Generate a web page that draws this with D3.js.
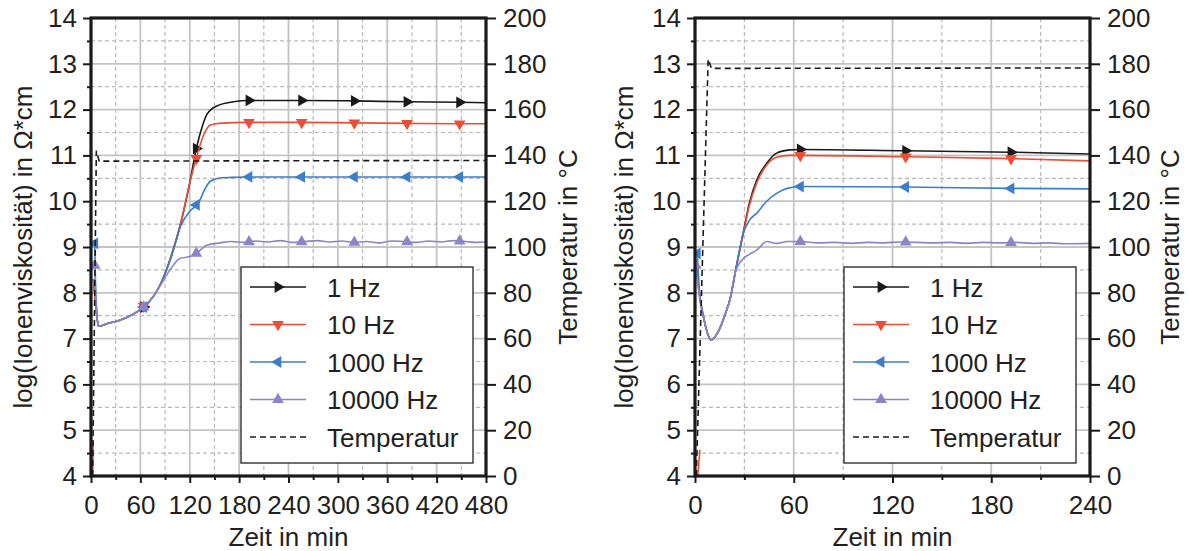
<!DOCTYPE html>
<html><head><meta charset="utf-8">
<script src="https://cdn.jsdelivr.net/npm/d3@7"></script>
<style>
body{margin:0;background:#fff}
text{font-family:"Liberation Sans",Arial,Helvetica,sans-serif;fill:#231f20}
</style>
</head><body>
<svg id="chart" width="1189" height="551"></svg>
<script>
// ---------------- DATA ----------------
const seriesLabels = ["1 Hz", "10 Hz", "1000 Hz", "10000 Hz"];
const tempLabel = "Temperatur";
const yTicks = [4,5,6,7,8,9,10,11,12,13,14];
const tempTicks = [0,20,40,60,80,100,120,140,160,180,200];
const xTicksLeft = [0,60,120,180,240,300,360,420,480];
const xTicksRight = [0,60,120,180,240];
const xTitle = "Zeit in min";
const yTitle = "log(Ionenviskosität) in Ω*cm";
const y2Title = "Temperatur in °C";
const markerTimesLeft = [64,128,192,256,320,384,448];
const markerTimesRight = [64,128,192];

// Left panel (t in min, log value)
const left1Hz = [[3,8.3],[6,7.7],[9,7.27],[20,7.33],[35,7.4],[50,7.52],[65,7.7],[75,7.9],[84,8.17],[96,8.72],[110,9.59],[120,10.4],[128,11.15],[135,11.62],[141,11.9],[153,12.08],[173,12.17],[192,12.2],[256,12.2],[320,12.19],[384,12.17],[448,12.16],[480,12.15]];
const left10Hz = [[1.8,3.5],[2.6,4.75],null,[3,8.3],[6,7.7],[9,7.27],[20,7.33],[35,7.4],[50,7.52],[65,7.72],[75,7.9],[84,8.17],[96,8.72],[110,9.59],[120,10.4],[130,11.07],[137,11.45],[144.6,11.66],[155,11.7],[192,11.72],[256,11.72],[320,11.71],[384,11.7],[448,11.69],[480,11.69]];
const left1000Hz = [[4.5,9.08],[5.5,8.2],[7,7.6],[9,7.27],[20,7.33],[35,7.4],[50,7.52],[65,7.7],[75,7.9],[84,8.17],[96,8.7],[110,9.5],[120,9.78],[131,9.97],[138,10.25],[144.6,10.43],[155,10.5],[170,10.52],[192,10.53],[256,10.53],[320,10.53],[384,10.53],[448,10.53],[480,10.53]];
const left10000Hz = [[4.5,8.6],[5.5,8.0],[7,7.55],[9,7.27],[20,7.33],[35,7.4],[50,7.52],[65,7.7],[75,7.9],[84,8.15],[96,8.5],[108,8.75],[120,8.79],[128,8.86],[140.6,9.04],[156.8,9.09],[170,9.12],[185,9.1],[200,9.13],[215,9.11],[230,9.14],[245,9.1],[260,9.12],[275,9.14],[290,9.11],[305,9.13],[320,9.1],[335,9.12],[350,9.09],[365,9.13],[380,9.12],[395,9.1],[410,9.13],[425,9.11],[440,9.14],[455,9.12],[470,9.1],[480,9.11]];
const leftTemp = [[2,0],[6.5,142],[10,137.5],[480,137.8]];

// Right panel
const right1Hz = [[0.5,8.7],[3,7.9],[5,7.5],[7.5,7.12],[10,6.97],[13,7.08],[16,7.3],[18.5,7.55],[21.3,7.86],[25,8.55],[29.4,9.33],[33,9.95],[37.5,10.46],[43.6,10.83],[49.6,11.05],[57.7,11.12],[64,11.13],[128,11.1],[192,11.07],[240,11.03]];
const right10Hz = [[1.4,3.9],[3,4.57],null,[0.5,8.7],[3,7.9],[5,7.5],[7.5,7.12],[10,6.97],[13,7.08],[16,7.3],[18.5,7.55],[21.3,7.86],[25,8.55],[29.4,9.3],[33,9.9],[37.5,10.4],[43.6,10.79],[49.6,10.96],[57.7,11.0],[64,11.0],[128,10.97],[192,10.93],[240,10.88]];
const right1000Hz = [[1.4,8.86],[3,7.9],[5,7.5],[7.5,7.12],[10,6.97],[13,7.08],[16,7.3],[18.5,7.55],[21.3,7.86],[25,8.55],[29.4,9.3],[33,9.58],[37.5,9.74],[43.6,10.0],[49.6,10.17],[56,10.28],[64,10.32],[128,10.31],[192,10.28],[240,10.27]];
const right10000Hz = [[0.5,8.6],[3,7.84],[5,7.5],[7.5,7.12],[10,6.97],[13,7.08],[16,7.3],[18.5,7.55],[21.3,7.86],[24.5,8.45],[29.4,8.75],[33,8.84],[37.5,8.93],[43.6,9.12],[49.6,9.08],[56,9.12],[64,9.12],[75,9.09],[85,9.1],[95,9.08],[105,9.1],[115,9.09],[125,9.11],[135,9.1],[145,9.09],[155,9.1],[165,9.08],[175,9.1],[185,9.09],[195,9.1],[205,9.08],[215,9.09],[225,9.07],[240,9.08]];
const rightTemp = [[0.8,0],[8,182],[10,178],[240,178.2]];

// ---------------- STYLE ----------------
const colors = ["#1a1a1a", "#ec4d37", "#3c7ecb", "#8b84c6"];
const rotations = [90, 180, -90, 0];
const W = 395, H = 458;

const svg = d3.select("#chart");

function interp(data, t) {
  const pts = data.filter(d => d !== null).slice().sort((a,b)=>a[0]-b[0]);
  for (let i = 0; i < pts.length - 1; i++) {
    if (t >= pts[i][0] && t <= pts[i+1][0]) {
      const f = (t - pts[i][0]) / (pts[i+1][0] - pts[i][0]);
      return pts[i][1] + f * (pts[i+1][1] - pts[i][1]);
    }
  }
  return null;
}

function drawPanel(opt) {
  const g = svg.append("g").attr("transform", `translate(${opt.x0},${opt.y0})`);
  const xMax = opt.xTicks[opt.xTicks.length-1];
  const x = d3.scaleLinear().domain([0, xMax]).range([0, W]);
  const y = d3.scaleLinear().domain([4, 14]).range([H, 0]);
  const yT = d3.scaleLinear().domain([0, 200]).range([H, 0]);
  const step = opt.xTicks[1] - opt.xTicks[0];
  const xMinor = opt.xTicks.slice(0, -1).map(v => v + step/2);
  const yMinor = yTicks.slice(0, -1).map(v => v + 0.5);

  // grid
  const grid = g.append("g");
  grid.selectAll("line.ym").data(yMinor).join("line")
    .attr("x1", 0).attr("x2", W).attr("y1", d => y(d)).attr("y2", d => y(d))
    .attr("stroke", "#b9b9b9").attr("stroke-width", 1.2).attr("stroke-dasharray", "4,3");
  grid.selectAll("line.xm").data(xMinor).join("line")
    .attr("y1", 0).attr("y2", H).attr("x1", d => x(d)).attr("x2", d => x(d))
    .attr("stroke", "#b9b9b9").attr("stroke-width", 1.2).attr("stroke-dasharray", "4,3");
  grid.selectAll("line.yM").data(yTicks.slice(1, -1)).join("line")
    .attr("x1", 0).attr("x2", W).attr("y1", d => y(d)).attr("y2", d => y(d))
    .attr("stroke", "#c4c4c4").attr("stroke-width", 1.8);
  grid.selectAll("line.xM").data(opt.xTicks.slice(1, -1)).join("line")
    .attr("y1", 0).attr("y2", H).attr("x1", d => x(d)).attr("x2", d => x(d))
    .attr("stroke", "#c4c4c4").attr("stroke-width", 1.8);

  // clip
  const clipId = "clip" + opt.id;
  g.append("clipPath").attr("id", clipId).append("rect").attr("width", W).attr("height", H);
  const plot = g.append("g").attr("clip-path", `url(#${clipId})`);

  const line = d3.line().defined(d => d !== null).x(d => x(d[0])).y(d => y(d[1])).curve(d3.curveMonotoneX);
  const lineSeg = d3.line().defined(d => d !== null).x(d => x(d[0])).y(d => y(d[1]));

  opt.series.forEach((s, i) => {
    // split into segments by null
    const segs = [];
    let cur = [];
    s.forEach(p => { if (p === null) { if (cur.length) segs.push(cur); cur = []; } else cur.push(p); });
    if (cur.length) segs.push(cur);
    segs.forEach(seg => {
      plot.append("path").datum(seg).attr("d", seg.length > 2 ? line : lineSeg)
        .attr("fill", "none").attr("stroke", colors[i]).attr("stroke-width", 1.6);
    });
    const mData = opt.markerTimes.map(t => [t, interp(segs[segs.length-1], t)]).filter(d => d[1] !== null);
    if (i >= 2) mData.unshift(s[0]);
    plot.selectAll(null).data(mData).join("path")
      .attr("d", d3.symbol(d3.symbolTriangle, 60))
      .attr("transform", d => `translate(${x(d[0])},${y(d[1])}) rotate(${rotations[i]})`)
      .attr("fill", colors[i]);
  });
  // temperature
  plot.append("path").datum(opt.temp)
    .attr("d", d3.line().x(d => x(d[0])).y(d => yT(d[1])))
    .attr("fill", "none").attr("stroke", "#1a1a1a").attr("stroke-width", 1.6).attr("stroke-dasharray", "6,4");

  // axes
  const fontSize = "26px";
  const ax = g.append("g").attr("transform", `translate(0,${H})`)
    .call(d3.axisBottom(x).tickValues(opt.xTicks).tickFormat(d3.format("d")).tickSize(7).tickPadding(13));
  ax.selectAll("text").style("font-size", fontSize);
  g.append("g").attr("transform", `translate(0,${H})`)
    .call(d3.axisBottom(x).tickValues(xMinor).tickFormat("").tickSize(4));
  const ay = g.append("g").call(d3.axisLeft(y).tickValues(yTicks).tickSize(8).tickPadding(6));
  ay.selectAll("text").style("font-size", fontSize);
  g.append("g").call(d3.axisLeft(y).tickValues(yMinor).tickFormat("").tickSize(4));
  const ay2 = g.append("g").attr("transform", `translate(${W},0)`)
    .call(d3.axisRight(yT).tickValues(tempTicks).tickSize(10).tickPadding(7));
  ay2.selectAll("text").style("font-size", fontSize);
  g.selectAll(".domain").remove();
  g.selectAll(".tick line").attr("stroke", "#1a1a1a").attr("stroke-width", 2);

  // frame
  g.append("rect").attr("width", W).attr("height", H).attr("fill", "none")
    .attr("stroke", "#1a1a1a").attr("stroke-width", 3.2);

  // legend
  const lg = g.append("g").attr("transform", `translate(${opt.legX},249)`);
  lg.append("rect").attr("width", 232).attr("height", 196).attr("fill", "#fff")
    .attr("stroke", "#231f20").attr("stroke-width", 1.3);
  const items = seriesLabels.map((l, i) => ({label: l, i}));
  items.push({label: tempLabel, i: 4});
  items.forEach((it, k) => {
    const yy = 20 + k * 37.5;
    lg.append("line").attr("x1", 9).attr("x2", 65).attr("y1", yy).attr("y2", yy)
      .attr("stroke", it.i < 4 ? colors[it.i] : "#1a1a1a").attr("stroke-width", 1.6)
      .attr("stroke-dasharray", it.i === 4 ? "6,4" : null);
    if (it.i < 4) {
      lg.append("path").attr("d", d3.symbol(d3.symbolTriangle, 60)())
        .attr("transform", `translate(37,${yy}) rotate(${rotations[it.i]})`).attr("fill", colors[it.i]);
    }
    lg.append("text").attr("x", 86).attr("y", yy + 9.5).style("font-size", "26px").text(it.label);
  });

  // titles
  g.append("text").attr("x", W/2).attr("y", 528).attr("text-anchor", "middle")
    .style("font-size", "26px").text(xTitle);
  g.append("text").attr("transform", `translate(${opt.yTitleX},${H/2}) rotate(-90)`)
    .attr("text-anchor", "middle").style("font-size", "26px").text(yTitle);
  g.append("text").attr("transform", `translate(${opt.y2TitleX},${H/2}) rotate(-90)`)
    .attr("text-anchor", "middle").style("font-size", "26px").text(y2Title);
}

drawPanel({id: "L", x0: 91, y0: 18, xTicks: xTicksLeft, markerTimes: markerTimesLeft,
  series: [left1Hz, left10Hz, left1000Hz, left10000Hz], temp: leftTemp, legX: 150,
  yTitleX: -59, y2TitleX: 486});
drawPanel({id: "R", x0: 695, y0: 18, xTicks: xTicksRight, markerTimes: markerTimesRight,
  series: [right1Hz, right10Hz, right1000Hz, right10000Hz], temp: rightTemp, legX: 149,
  yTitleX: -62, y2TitleX: 484});
</script>
</body></html>
